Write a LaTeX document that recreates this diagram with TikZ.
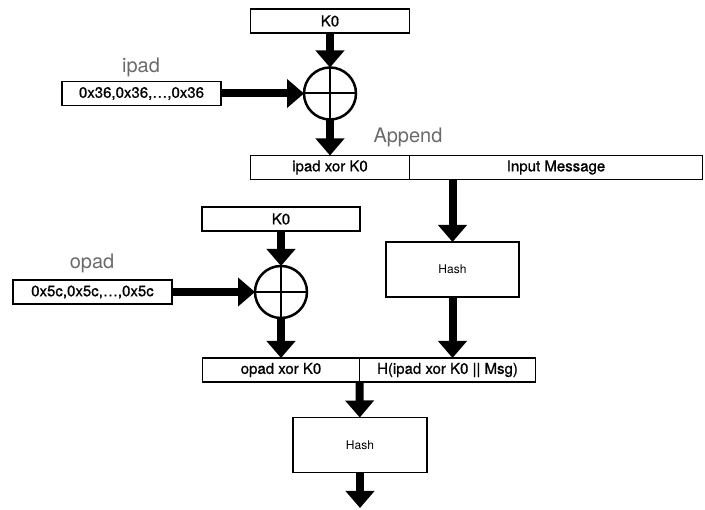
\documentclass[tikz,border=0pt]{standalone}
\usepackage{fontspec}
\setmainfont{TeX Gyre Heros}
\newfontfamily\boxfont[FakeBold=0.9]{TeX Gyre Heros}
\usetikzlibrary{arrows.meta,positioning}
\begin{document}
\begin{tikzpicture}[x=1pt,y=-1pt,
	box/.style={draw, line width=1.5pt, inner sep=0pt, outer sep=0pt, minimum height=24pt, font=\boxfont\fontsize{15}{18}\selectfont},
	hashbox/.style={box, minimum width=133pt, minimum height=55pt, font=\fontsize{12}{14}\selectfont},
	xor/.style={draw, circle, line width=2.5pt, minimum size=52pt, inner sep=0pt, outer sep=0pt},
	tag/.style={text=black!58, font=\fontsize{20}{24}\selectfont},
	flow/.style={line width=8pt, -{Triangle[width=28pt,length=17pt]}}]
	\useasboundingbox (0,0) rectangle (705,510);

	% inner pad
	\node[box, minimum width=159pt] (K1) at (330,21) {K0};
	\node[xor] (X1) at (330,93.5) {};
	\draw[line width=2pt] (X1.north) -- (X1.south) (X1.west) -- (X1.east);
	\node[box, minimum width=159pt] (IPAD) at (141.5,93.5) {0x36,0x36,…,0x36};
	\node[tag] (IPADT) at (141,67) {ipad};
	\node[box, minimum width=159pt] (IK) at (330,167.5) {ipad xor K0};
	\node[box, minimum width=293pt, right=0pt of IK] (MSG) {Input Message};
	\node[tag] (APP) at (408,137) {Append};
	\node[hashbox] (H1) at (452.5,269.5) {Hash};

	\draw[flow] (K1) -- (X1);
	\draw[flow] (IPAD) -- (X1);
	\draw[flow] (X1) -- (IK);
	\draw[flow] (H1.north |- MSG.south) -- (H1);

	% outer pad
	\node[box, minimum width=158pt] (K2) at (281,219) {K0};
	\node[xor] (X2) at (281,292) {};
	\draw[line width=2pt] (X2.north) -- (X2.south) (X2.west) -- (X2.east);
	\node[box, minimum width=159pt] (OPAD) at (92.5,292) {0x5c,0x5c,…,0x5c};
	\node[tag] (OPADT) at (92,263) {opad};
	\node[box, minimum width=157pt] (OK) at (281,370) {opad xor K0};
	\node[box, minimum width=176pt, right=0pt of OK] (HM) {H(ipad xor K0 || Msg)};
	\node[hashbox, minimum width=134pt] (H2) at (360,445) {Hash};
	\coordinate (OUT) at (360,508);

	\draw[flow] (K2) -- (X2);
	\draw[flow] (OPAD) -- (X2);
	\draw[flow] (X2) -- (OK);
	\draw[flow] (H1) -- (H1.south |- HM.north);
	\draw[flow] (OK.south east) -- (H2);
	\draw[flow] (H2) -- (OUT);
\end{tikzpicture}
\end{document}
